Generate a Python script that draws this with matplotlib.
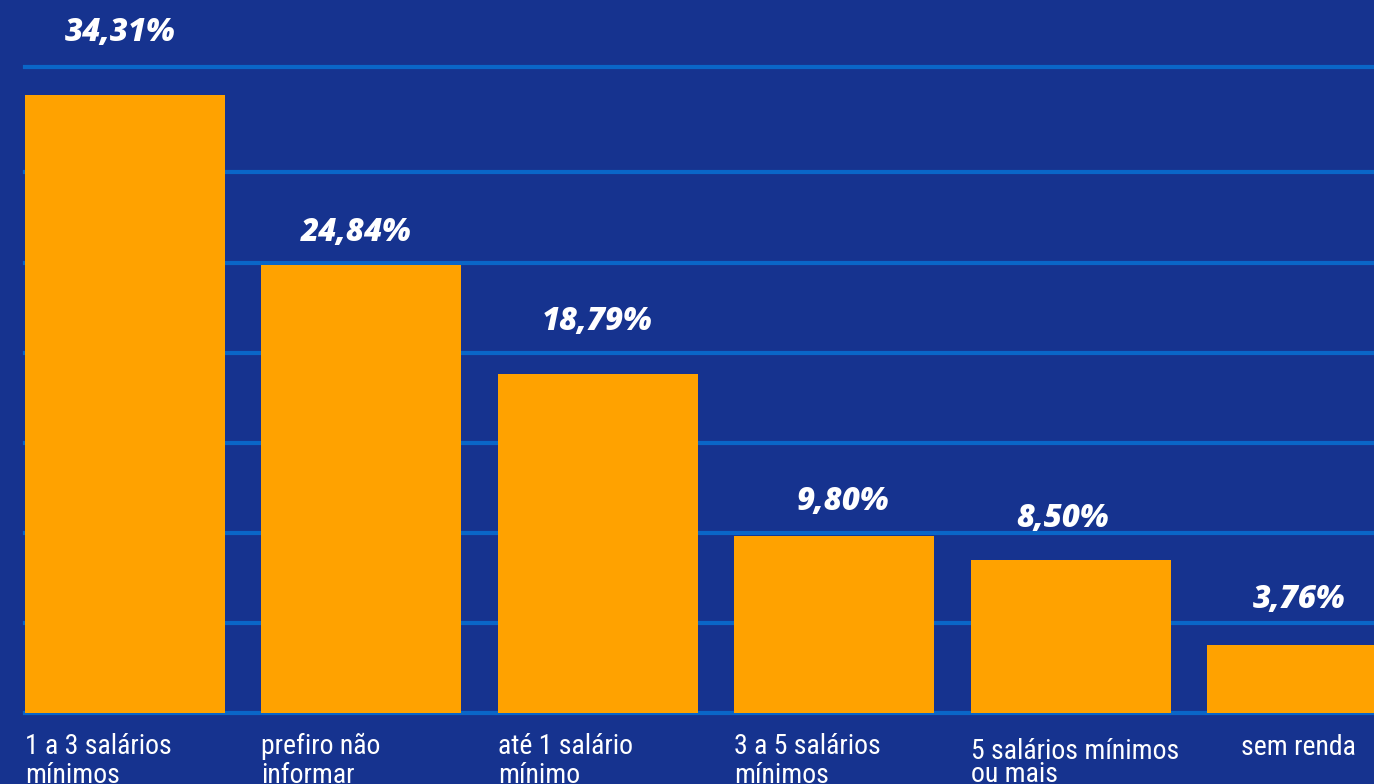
import matplotlib
matplotlib.use("Agg")
import matplotlib.pyplot as plt
import matplotlib.transforms as mtransforms
from matplotlib import font_manager

# dados
categorias = ["1 a 3 salários\nmínimos", "prefiro não\ninformar", "até 1 salário\nmínimo",
              "3 a 5 salários\nmínimos", "5 salários mínimos\nou mais", "sem renda"]
percentuais = [34.31, 24.84, 18.79, 9.80, 8.50, 3.76]
rotulos = ["34,31%", "24,84%", "18,79%", "9,80%", "8,50%", "3,76%"]

# estilo
fundo = "#16338f"
laranja = "#ffa200"
grade = "#0a66c8"
largura = 0.846
# posicao dos rotulos (pontos) e dos nomes
off_rot_y = [44.5, 23.5, 37.5, 25, 29.5, 32.5]
off_rot_x = [-3.5, -3.5, -0.5, 6, -5.5, -5.5]
desloc_nome = [0, 0, 0, 0, 0, 0.144]
base_nome = [-0.0635, -0.0635, -0.0635, -0.0635, -0.0712, -0.065]  # 1a linha
passo_nome = [0.045, 0.045, 0.045, 0.045, 0.0356, 0.045]

nomes_fonte = {f.name for f in font_manager.fontManager.ttflist}
if "Roboto Condensed" in nomes_fonte:
    fonte_cond, tam_nome = "Roboto Condensed", 20
elif "Liberation Sans Narrow" in nomes_fonte:
    fonte_cond, tam_nome = "Liberation Sans Narrow", 20
else:
    fonte_cond, tam_nome = "Roboto", 17.5

fig = plt.figure(figsize=(13.74, 7.84), dpi=100, facecolor=fundo)
ax = fig.add_axes([25 / 1374, 71 / 784, 1349 / 1374, 646 / 784], facecolor=fundo)

x = list(range(len(percentuais)))
ax.bar(x, percentuais, width=largura, color=laranja, zorder=3)

topo = 35.85
ax.set_xlim(-largura / 2, -largura / 2 + 1349 / 236.4)
ax.set_ylim(0, topo)
for y in [0, 5, 10, 15, 20, 25, 30, topo]:
    ax.axhline(y, color=grade, lw=3, zorder=1, clip_on=False)

for s in ax.spines.values():
    s.set_visible(False)
ax.set_xticks([])
ax.set_yticks([])

for xi, v, r, ox, oy in zip(x, percentuais, rotulos, off_rot_x, off_rot_y):
    ax.annotate(r, (xi, v), xytext=(ox, oy), textcoords="offset points",
                ha="center", va="center", color="white", fontsize=22.5,
                fontweight="heavy", fontstyle="italic", family="Open Sans")

trans = mtransforms.blended_transform_factory(ax.transData, ax.transAxes)
for xi, nome, d, b, p in zip(x, categorias, desloc_nome, base_nome, passo_nome):
    for k, linha in enumerate(nome.split("\n")):
        ax.text(xi - largura / 2 + d, b - k * p, linha, transform=trans,
                ha="left", va="baseline", color="white", fontsize=tam_nome,
                family=fonte_cond, clip_on=False)

fig.savefig("out.png", dpi=100, facecolor=fundo)
